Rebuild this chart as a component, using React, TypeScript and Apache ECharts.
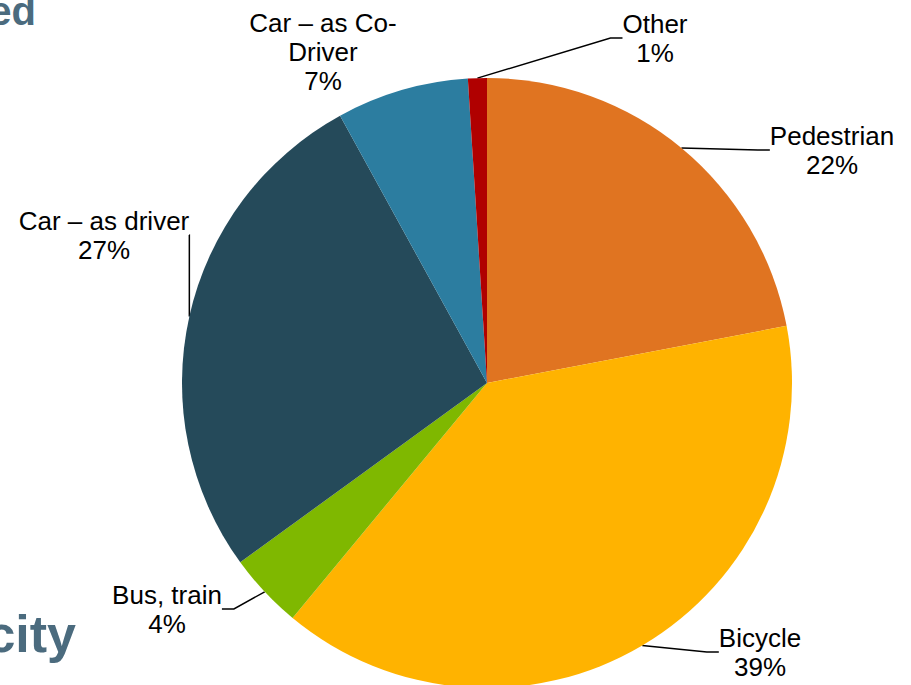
import React, { useEffect, useRef } from "react";
import * as echarts from "echarts";

const categories = ["Pedestrian", "Bicycle", "Bus, train", "Car – as driver", "Car – as Co-Driver", "Other"];
const shares = [22, 39, 4, 27, 7, 1];
const labelTexts = ["Pedestrian", "Bicycle", "Bus, train", "Car – as driver", "Car – as Co-\nDriver", "Other"];
const colors = ["#E07421", "#FFB300", "#7FB800", "#254A5A", "#2C7DA0", "#B00000"];

// label anchor positions (layout only)
const labelPos: [number, number, string][] = [
  [832, 150, "center"],
  [760, 652, "center"],
  [167, 609, "center"],
  [104, 235, "center"],
  [323, 52, "center"],
  [655, 38, "center"],
];

export default function App() {
  const ref = useRef<HTMLDivElement>(null);
  useEffect(() => {
    if (!ref.current) return;
    const chart = echarts.init(ref.current, null, { renderer: "svg" });
    chart.setOption({
      animation: false,
      backgroundColor: "#ffffff",
      graphic: [
        {
          type: "text",
          style: {
            text: "ed",
            x: 36,
            y: 11,
            textAlign: "right",
            textVerticalAlign: "middle",
            font: "bold 40px 'Liberation Sans', Arial, sans-serif",
            fill: "#4B6B7E",
          },
        },
        {
          type: "text",
          style: {
            text: "city",
            x: 76,
            y: 634,
            textAlign: "right",
            textVerticalAlign: "middle",
            font: "bold 52px 'Liberation Sans', Arial, sans-serif",
            fill: "#4B6B7E",
          },
        },
      ],
      series: [
        {
          type: "pie",
          center: [487, 383],
          radius: 305,
          startAngle: 90,
          clockwise: true,
          avoidLabelOverlap: false,
          itemStyle: { borderWidth: 0 },
          label: {
            show: true,
            position: "outside",
            color: "#000",
            fontFamily: "'Liberation Sans', Arial, sans-serif",
            fontSize: 26,
            lineHeight: 29,
            align: "center",
            formatter: (p: any) => `${labelTexts[p.dataIndex]}\n${p.value}%`,
          },
          labelLine: {
            show: true,
            length: 15,
            length2: 12,
            lineStyle: { color: "#000", width: 1.5 },
          },
          labelLayout: (p: any) => {
            const pos = labelPos[p.dataIndex];
            return { x: pos[0], y: pos[1], align: pos[2], verticalAlign: "middle" };
          },
          data: categories.map((name, i) => ({
            name,
            value: shares[i],
            itemStyle: { color: colors[i] },
            labelLine: i === 4 ? { show: false } : undefined,
          })),
        },
      ],
    });
    return () => chart.dispose();
  }, []);
  return <div ref={ref} style={{ position: "fixed", left: 0, top: 0, width: 911, height: 685 }} />;
}
